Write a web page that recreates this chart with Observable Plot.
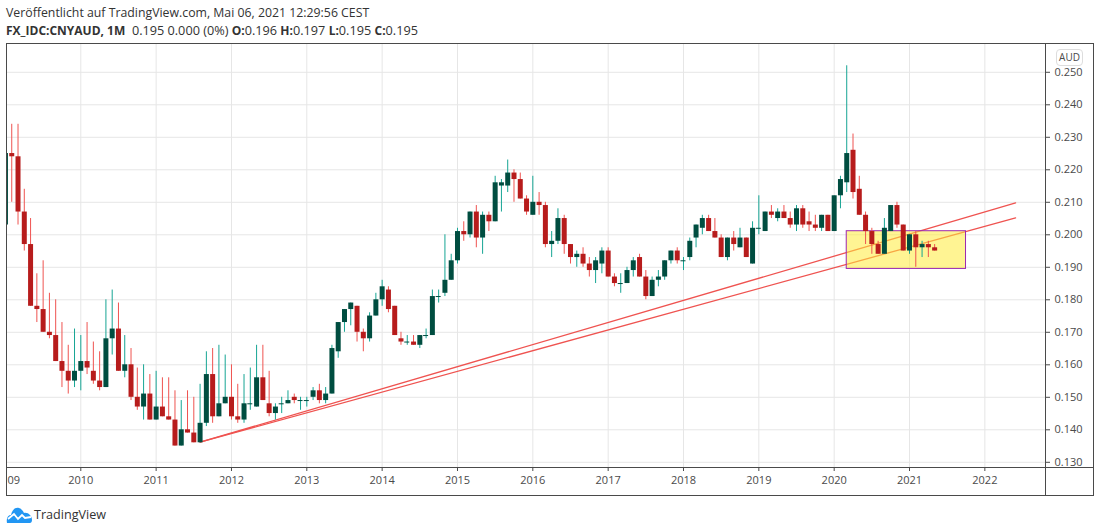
<!DOCTYPE html>
<html><head><meta charset="utf-8">
<script src="https://cdn.jsdelivr.net/npm/d3@7"></script>
<script src="https://cdn.jsdelivr.net/npm/@observablehq/plot@0.6"></script>
<style>
html,body{margin:0;padding:0;background:#fff;overflow:hidden;width:1100px;height:532px;font-family:"Open Sans",sans-serif;color:#333}
#h1{position:absolute;left:6px;top:5px;font-size:12.3px;line-height:16px;white-space:nowrap;color:#333}
#h2{position:absolute;left:6px;top:22px;font-size:12.7px;line-height:16px;white-space:nowrap;color:#333}
#h2 b{font-weight:700;font-size:12px}
#box{position:absolute;left:6px;top:43px;width:1086px;height:451px;border:1px solid #4a4a4a}
#aud{position:absolute;left:1056px;top:49px;width:25px;height:15px;border:1px solid #ddd;border-radius:4px;background:#fff;font-size:10px;line-height:15px;text-align:center;color:#4a4a4a}
#foot{position:absolute;left:6px;top:505px;height:18px;display:flex;align-items:center;font-size:12.6px;color:#333}
#foot svg{margin-right:1px}
</style></head><body>
<div id="h1">Veröffentlicht auf TradingView.com, Mai 06, 2021 12:29:56 CEST</div>
<div id="h2"><b>FX_IDC:CNYAUD, 1M</b>&nbsp; 0.195 0.000 (0%) <b>O:</b>0.196 <b>H:</b>0.197 <b>L:</b>0.195 <b>C:</b>0.195</div>
<div id="box"></div>
<div id="aud">AUD</div>
<div id="foot"><svg width="27" height="17" viewBox="0 0 27 17"><path d="M1 17C0 12 2 9 5 9 6 4 9 1 13 2 16 3 17 5 18 7 22 6 26 10 26 14 26 16 25 17 24 17Z" fill="#2196f3"/><path d="M2 13L8 8 12 13 16 9 19 12 25 11" fill="none" stroke="#fff" stroke-width="1.8"/></svg>TradingView</div>
<script>
const opens = [
.203,.225,.224,.207,.197,.178,.177,.170,.169,.161,.158,.155,
.158,.161,.158,.155,.153,.168,.171,.158,.160,.150,.147,.151,
.143,.147,.144,.143,.135,.140,.139,.136,.142,.157,.144,.148,
.150,.144,.143,.148,.147,.156,.148,.145,.148,.148,.150,.149,
.149,.150,.152,.149,.151,.164,.173,.177,.178,.170,.168,.175,
.180,.183,.178,.168,.167,.167,.166,.169,.169,.181,.182,.186,
.192,.201,.200,.207,.199,.206,.204,.215,.215,.219,.217,.211,
.206,.210,.209,.197,.198,.205,.197,.193,.194,.191,.189,.191,
.195,.187,.185,.185,.189,.193,.187,.181,.186,.187,.192,.195,
.192,.193,.199,.202,.205,.201,.199,.193,.199,.196,.199,.191,
.202,.201,.207,.205,.207,.205,.203,.208,.204,.203,.202,.206,
.201,.212,.216,.226,.214,.206,.201,.197,.194,.201,.209,.203,
.195,.200,.196,.197,.196];
const closes = [
.225,.224,.207,.197,.178,.177,.170,.169,.161,.158,.155,.158,
.161,.159,.155,.153,.168,.171,.158,.160,.150,.147,.151,.143,
.147,.144,.143,.135,.140,.139,.136,.142,.157,.144,.148,.150,
.144,.143,.148,.148,.156,.149,.145,.147,.148,.149,.149,.149,
.149,.152,.149,.151,.165,.173,.177,.179,.170,.168,.175,.180,
.184,.177,.169,.167,.167,.166,.169,.169,.181,.181,.186,.192,
.201,.200,.207,.199,.206,.204,.216,.216,.219,.217,.211,.207,
.210,.209,.197,.198,.205,.197,.193,.194,.191,.189,.192,.195,
.187,.185,.185,.189,.192,.187,.181,.186,.187,.192,.195,.192,
.192,.198,.203,.205,.201,.199,.193,.199,.197,.199,.193,.202,
.202,.207,.206,.207,.205,.203,.208,.203,.203,.202,.206,.201,
.212,.217,.225,.213,.206,.201,.197,.194,.202,.209,.203,.195,
.200,.196,.197,.196,.195];
const highs = [
.225,.234,.234,.214,.205,.188,.192,.182,.180,.173,.166,.171,
.169,.173,.167,.164,.180,.183,.179,.169,.165,.159,.160,.157,
.158,.156,.156,.152,.149,.152,.150,.154,.164,.165,.166,.163,
.160,.154,.157,.159,.166,.166,.158,.148,.150,.152,.151,.150,
.150,.153,.154,.153,.166,.173,.177,.179,.178,.171,.176,.182,
.186,.184,.178,.170,.169,.169,.169,.171,.183,.183,.200,.194,
.202,.204,.207,.209,.207,.207,.218,.217,.223,.220,.219,.212,
.218,.213,.210,.201,.208,.206,.197,.195,.196,.193,.193,.196,
.196,.188,.188,.190,.193,.194,.189,.187,.189,.192,.195,.196,
.193,.199,.203,.206,.206,.205,.200,.199,.201,.202,.199,.204,
.212,.207,.209,.208,.209,.207,.209,.209,.207,.206,.206,.206,
.212,.218,.252,.231,.218,.207,.202,.198,.205,.209,.210,.203,
.200,.201,.198,.198,.197];
const lows = [
.203,.210,.203,.195,.178,.173,.170,.168,.161,.153,.151,.153,
.152,.157,.154,.152,.153,.163,.158,.156,.149,.146,.143,.143,
.143,.144,.143,.135,.135,.139,.136,.136,.141,.142,.144,.148,
.143,.142,.142,.146,.147,.149,.144,.143,.145,.148,.148,.146,
.147,.149,.148,.148,.151,.162,.170,.172,.167,.164,.167,.175,
.178,.176,.169,.166,.166,.166,.165,.168,.169,.179,.181,.186,
.191,.198,.199,.196,.194,.201,.204,.207,.213,.210,.211,.206,
.206,.206,.196,.193,.197,.194,.191,.190,.190,.187,.185,.188,
.187,.184,.182,.185,.187,.187,.180,.181,.184,.186,.191,.191,
.189,.192,.196,.200,.201,.199,.193,.192,.195,.196,.193,.191,
.200,.201,.205,.204,.205,.202,.201,.202,.201,.201,.201,.201,
.201,.208,.213,.211,.206,.197,.194,.194,.194,.201,.202,.195,
.194,.190,.193,.193,.195];
const tickYears = [2010,2011,2012,2013,2014,2015,2016,2017,2018,2019,2020,2021,2022];
const tickPrices = [.13,.14,.15,.16,.17,.18,.19,.20,.21,.22,.23,.24,.25];
// months since Jan 2009 for the trend lines and highlight box
const trendMonths = [31,160.9];
const trendUpper = [.1362,.2098];
const trendLower = [.1362,.2052];
const boxMonths = [134,153];
const boxPrices = [.1895,.2011];

const UPW="#16a594", DNW="#ef5350", UPB="#004d40", DNB="#b71c1c", INK="#4a4a4a", GRID="#e6e6e6";
const candles = opens.map((o,i)=>({m:i,o,c:closes[i],h:highs[i],l:lows[i],up:closes[i]>=o}));
const bodies = candles.filter(d=>d.o!==d.c), dojis = candles.filter(d=>d.o===d.c);
const xTicks = tickYears.map(y=>(y-2009)*12);
const xDom=[.325,165.66], yDom=[.1284,.25855];
const trend = a => trendMonths.map((m,i)=>({m,v:a[i]}));

const chart = Plot.plot({
  width:1086,height:451,marginLeft:0,marginRight:48,marginTop:0,marginBottom:28,
  style:{fontFamily:'"Open Sans",sans-serif',fontSize:"11px",color:INK,background:"transparent",overflow:"visible"},
  x:{type:"linear",domain:xDom},
  y:{type:"linear",domain:yDom},
  marks:[
    Plot.gridX(xTicks,{stroke:GRID,strokeOpacity:1}),
    Plot.gridY(tickPrices,{stroke:GRID,strokeOpacity:1}),
    Plot.line(trend(trendUpper),{x:"m",y:"v",stroke:"#ef5350",strokeWidth:1.3}),
    Plot.line(trend(trendLower),{x:"m",y:"v",stroke:"#ef5350",strokeWidth:1.3}),
    Plot.rect([0],{x1:()=>boxMonths[0],x2:()=>boxMonths[1],y1:()=>boxPrices[0],y2:()=>boxPrices[1],fill:"#ffeb3b",fillOpacity:.55,stroke:"#9c27b0",strokeWidth:1}),
    Plot.ruleX(candles,{x:"m",y1:"l",y2:"h",stroke:d=>d.up?UPW:DNW,strokeWidth:1,clip:true}),
    Plot.ruleX(bodies,{x:"m",y1:"o",y2:"c",stroke:d=>d.up?UPB:DNB,strokeWidth:5,clip:true}),
    Plot.ruleY(dojis,{y:"c",x1:d=>d.m-.4,x2:d=>d.m+.4,stroke:UPB,strokeWidth:1}),
    Plot.ruleY([yDom[0]],{stroke:INK,insetRight:-48}),
    Plot.ruleX([xDom[1]],{stroke:INK,insetBottom:-28}),
    Plot.axisX(xTicks,{anchor:"bottom",label:null,tickSize:4,tickPadding:5,stroke:INK,fill:INK,tickFormat:d=>String(2009+d/12)}),
    Plot.axisY(tickPrices,{anchor:"right",label:null,tickSize:4,tickPadding:5,stroke:INK,fill:INK,tickFormat:d3.format(".3f")}),
    Plot.text(["09"],{frameAnchor:"bottom-left",textAnchor:"start",dy:16,fill:INK})
  ]
});
document.getElementById("box").appendChild(chart);
</script>
</body></html>
